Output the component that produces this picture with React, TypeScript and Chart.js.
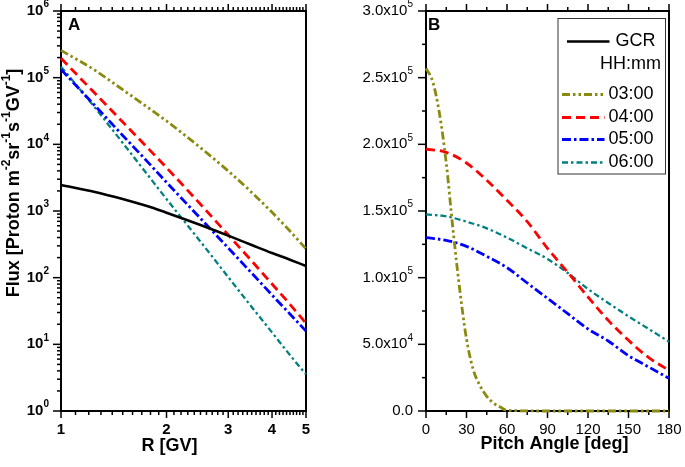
import { useEffect, useRef } from 'react'
import { Chart, registerables } from 'chart.js'

Chart.register(...registerables)

// ---- panel A: flux vs rigidity (log-log) ----
const rigidity = [1, 1.25, 1.5, 1.75, 2, 2.5, 3, 3.5, 4, 4.5, 5]
const gcrFlux = [2455, 1930, 1510, 1200, 944, 617, 427, 309, 234, 186, 150]
const flux0300 = [2.57e5, 1.29e5, 6.6e4, 3.72e4, 2.24e4, 8.9e3, 3.98e3, 1.9e3, 955, 500, 270]
const flux0400 = [1.95e5, 5.82e4, 2.16e4, 9.33e3, 4.47e3, 1.26e3, 437, 178, 80.4, 39.8, 20.7]
const flux0500 = [1.33e5, 3.8e4, 1.36e4, 5.75e3, 2.69e3, 776, 279, 117, 55, 28.5, 15.8]
const flux0600 = [1.46e5, 3.55e4, 1.05e4, 3.72e3, 1.51e3, 347, 102, 36.3, 15.1, 6.9, 3.55]
const rigidityTicks = [1, 2, 3, 4, 5]
const fluxExponents = [0, 1, 2, 3, 4, 5, 6]

// ---- panel B: flux vs pitch angle ----
const pitch0300 = [0, 5, 10, 15, 20, 25, 30, 35, 40, 45, 50, 55, 60, 90, 120, 150, 180]
const pad0300 = [2.57e5, 2.47e5, 2.23e5, 1.86e5, 1.36e5, 0.91e5, 0.54e5, 0.31e5, 0.19e5, 0.11e5, 0.06e5, 0.03e5, 0.005e5, 0, 0, 0, 0]
const pitchAngle = [0, 15, 30, 45, 60, 75, 90, 105, 120, 135, 150, 165, 180]
const pad0400 = [1.965e5, 1.94e5, 1.86e5, 1.73e5, 1.58e5, 1.42e5, 1.22e5, 1.04e5, 0.855e5, 0.68e5, 0.53e5, 0.4e5, 0.305e5]
const pad0500 = [1.3e5, 1.28e5, 1.235e5, 1.16e5, 1.075e5, 0.96e5, 0.845e5, 0.73e5, 0.615e5, 0.525e5, 0.415e5, 0.33e5, 0.245e5]
const pad0600 = [1.475e5, 1.46e5, 1.42e5, 1.37e5, 1.3e5, 1.22e5, 1.14e5, 1.035e5, 0.915e5, 0.81e5, 0.71e5, 0.615e5, 0.52e5]
const pitchTicks = [0, 30, 60, 90, 120, 150, 180]
const padTicks = [0, 0.5e5, 1e5, 1.5e5, 2e5, 2.5e5, 3e5]

const legendLabels = ['GCR', '03:00', '04:00', '05:00', '06:00']

const FONT = '"Liberation Sans", Arial, sans-serif'
const styles = [
  { color: '#000000', dash: [] as number[], width: 2.6 },
  { color: '#8a8a10', dash: [8, 3, 2.5, 3, 2.5, 3], width: 2.8 },
  { color: '#ff0000', dash: [9, 5], width: 2.8 },
  { color: '#0000ff', dash: [9, 3, 2.5, 3], width: 2.8 },
  { color: '#008080', dash: [6, 3, 2.5, 3], width: 2.3 },
]

type Seg = { t: string; sup?: boolean }

function segWidth(ctx: CanvasRenderingContext2D, segs: Seg[], size: number, weight: string) {
  let w = 0
  for (const s of segs) {
    ctx.font = `${weight} ${s.sup ? Math.round(size * 0.68) : size}px ${FONT}`
    w += ctx.measureText(s.t).width
  }
  return w
}

function drawRich(ctx: CanvasRenderingContext2D, segs: Seg[], x: number, y: number, size: number, weight: string, align: 'left' | 'right' | 'center') {
  const w = segWidth(ctx, segs, size, weight)
  let cx = align === 'left' ? x : align === 'right' ? x - w : x - w / 2
  ctx.textAlign = 'left'
  ctx.textBaseline = 'middle'
  for (const s of segs) {
    ctx.font = `${weight} ${s.sup ? Math.round(size * 0.68) : size}px ${FONT}`
    ctx.fillText(s.t, cx, s.sup ? y - size * 0.42 : y)
    cx += ctx.measureText(s.t).width
  }
}

function line(ctx: CanvasRenderingContext2D, x1: number, y1: number, x2: number, y2: number) {
  ctx.beginPath()
  ctx.moveTo(x1, y1)
  ctx.lineTo(x2, y2)
  ctx.stroke()
}

const panelA = {
  id: 'panelA',
  beforeDatasetsDraw(chart: any) {
    const { ctx, chartArea: a, scales: { x, y } } = chart
    ctx.save()
    ctx.strokeStyle = '#000'
    ctx.fillStyle = '#000'
    ctx.lineWidth = 2
    ctx.setLineDash([])
    ctx.strokeRect(a.left, a.top, a.right - a.left, a.bottom - a.top)
    ctx.lineWidth = 1.5
    for (const e of fluxExponents) {
      const py = y.getPixelForValue(10 ** e)
      line(ctx, a.left - 8, py, a.left, py)
      drawRich(ctx, [{ t: '10' }, { t: String(e), sup: true }], a.left - 12, py, 15, 'bold', 'right')
      if (e < 6) {
        for (let m = 2; m <= 9; m++) {
          const pm = y.getPixelForValue(m * 10 ** e)
          line(ctx, a.left - 4, pm, a.left, pm)
        }
      }
    }
    for (let k = 10; k <= 50; k++) {
      const px = x.getPixelForValue(k / 10)
      const len = k % 10 === 0 ? 7 : 4
      line(ctx, px, a.bottom, px, a.bottom + len)
      line(ctx, px, a.top, px, a.top - len)
    }
    ctx.textAlign = 'center'
    ctx.textBaseline = 'middle'
    ctx.font = `bold 15px ${FONT}`
    for (const v of rigidityTicks) ctx.fillText(String(v), x.getPixelForValue(v), a.bottom + 19)
    ctx.font = `bold 18px ${FONT}`
    ctx.fillText('R [GV]', (a.left + a.right) / 2 - 14, a.bottom + 35)
    ctx.textAlign = 'left'
    ctx.textBaseline = 'alphabetic'
    ctx.font = `bold 17px ${FONT}`
    ctx.fillText('A', a.left + 7, a.top + 19)
    ctx.translate(14, (a.top + a.bottom) / 2 - 28)
    ctx.rotate(-Math.PI / 2)
    drawRich(ctx, [
      { t: 'Flux [Proton m' }, { t: '-2', sup: true }, { t: 'sr' }, { t: '-1', sup: true },
      { t: 's' }, { t: '-1', sup: true }, { t: 'GV' }, { t: '-1', sup: true }, { t: ']' },
    ], 0, 0, 18, 'bold', 'center')
    ctx.restore()
  },
}

const panelB = {
  id: 'panelB',
  beforeDatasetsDraw(chart: any) {
    const { ctx, chartArea: a, scales: { x, y } } = chart
    ctx.save()
    ctx.strokeStyle = '#000'
    ctx.fillStyle = '#000'
    ctx.lineWidth = 2
    ctx.setLineDash([])
    ctx.strokeRect(a.left, a.top, a.right - a.left, a.bottom - a.top)
    ctx.lineWidth = 1.5
    padTicks.forEach((v, i) => {
      const py = y.getPixelForValue(v)
      line(ctx, a.left - 8, py, a.left, py)
      if (i < padTicks.length - 1) {
        const pm = y.getPixelForValue((v + padTicks[i + 1]) / 2)
        line(ctx, a.left - 4, pm, a.left, pm)
      }
      let segs: Seg[]
      if (v === 0) segs = [{ t: '0.0' }]
      else {
        const e = Math.floor(Math.log10(v) + 1e-9)
        segs = [{ t: (v / 10 ** e).toFixed(1) + 'x10' }, { t: String(e), sup: true }]
      }
      drawRich(ctx, segs, a.left - 13, py, 15, 'normal', 'right')
    })
    for (let v = 0; v <= 180; v += 15) {
      const px = x.getPixelForValue(v)
      const len = v % 30 === 0 ? 7 : 4
      line(ctx, px, a.bottom, px, a.bottom + len)
      line(ctx, px, a.top, px, a.top - len)
    }
    ctx.textAlign = 'center'
    ctx.textBaseline = 'middle'
    ctx.font = `15px ${FONT}`
    for (const v of pitchTicks) ctx.fillText(String(v), x.getPixelForValue(v), a.bottom + 19)
    ctx.font = `bold 18px ${FONT}`
    ctx.fillText('Pitch Angle [deg]', (a.left + a.right) / 2 + 7, a.bottom + 33)
    ctx.textAlign = 'left'
    ctx.textBaseline = 'alphabetic'
    ctx.font = `bold 17px ${FONT}`
    ctx.fillText('B', a.left + 2, a.top + 19)
    ctx.restore()
  },
  afterDraw(chart: any) {
    const { ctx, chartArea: a } = chart
    ctx.save()
    const bx = a.right - 111
    const by = a.top + 7.5
    ctx.fillStyle = '#fff'
    ctx.fillRect(bx, by, 107.5, 155.5)
    ctx.lineWidth = 1
    ctx.strokeStyle = '#333'
    ctx.strokeRect(bx, by, 107.5, 155.5)
    ctx.fillStyle = '#000'
    ctx.font = `18px ${FONT}`
    ctx.textBaseline = 'middle'
    const rows = [23, 76, 99, 121, 144]
    legendLabels.forEach((lab, i) => {
      const st = styles[i]
      const ly = by + rows[i]
      ctx.strokeStyle = st.color
      ctx.lineWidth = st.width
      ctx.setLineDash(st.dash)
      if (i === 0) line(ctx, bx + 9, ly, bx + 51.5, ly)
      else line(ctx, bx + 4, ly, bx + 46.5, ly)
      ctx.setLineDash([])
      if (i === 0) {
        ctx.textAlign = 'right'
        ctx.fillText(lab, bx + 97.5, ly)
      } else {
        ctx.textAlign = 'left'
        ctx.fillText(lab, bx + 50.5, ly)
      }
    })
    ctx.textAlign = 'right'
    ctx.fillText('HH:mm', bx + 103, by + 45.5)
    ctx.restore()
  },
}

function ds(label: string, xs: number[], ys: number[], i: number) {
  const st = styles[i]
  return {
    label,
    data: xs.map((v, k) => ({ x: v, y: ys[k] })),
    borderColor: st.color,
    borderDash: st.dash,
    borderWidth: st.width,
    pointRadius: 0,
    fill: false,
    clip: 3,
    cubicInterpolationMode: 'monotone' as const,
  }
}

export default function App() {
  const refA = useRef<HTMLCanvasElement>(null)
  const refB = useRef<HTMLCanvasElement>(null)

  useEffect(() => {
    if (!refA.current || !refB.current) return
    const common = {
      responsive: true,
      maintainAspectRatio: false,
      animation: false as const,
      events: [],
      plugins: { legend: { display: false }, tooltip: { enabled: false } },
    }
    const chartA = new Chart(refA.current, {
      type: 'line',
      data: {
        datasets: [
          ds('GCR', rigidity, gcrFlux, 0),
          ds('03:00', rigidity, flux0300, 1),
          ds('04:00', rigidity, flux0400, 2),
          ds('05:00', rigidity, flux0500, 3),
          ds('06:00', rigidity, flux0600, 4),
        ],
      },
      options: {
        ...common,
        layout: { padding: { left: 61, right: 34, top: 11, bottom: 56 } },
        scales: {
          x: { type: 'logarithmic', min: 1, max: 5, display: false },
          y: { type: 'logarithmic', min: 1, max: 1e6, display: false },
        },
      },
      plugins: [panelA],
    } as any)
    const chartB = new Chart(refB.current, {
      type: 'line',
      data: {
        datasets: [
          ds('03:00', pitch0300, pad0300, 1),
          ds('04:00', pitchAngle, pad0400, 2),
          ds('05:00', pitchAngle, pad0500, 3),
          ds('06:00', pitchAngle, pad0600, 4),
        ],
      },
      options: {
        ...common,
        layout: { padding: { left: 86, right: 16, top: 11, bottom: 56 } },
        scales: {
          x: { type: 'linear', min: 0, max: 180, display: false },
          y: { type: 'linear', min: 0, max: 3e5, display: false },
        },
      },
      plugins: [panelB],
    } as any)
    return () => {
      chartA.destroy()
      chartB.destroy()
    }
  }, [])

  return (
    <div style={{ position: 'absolute', left: 0, top: 0, width: 685, height: 467, background: '#fff' }}>
      <div style={{ position: 'absolute', left: 0, top: 0, width: 340, height: 467 }}>
        <canvas ref={refA} />
      </div>
      <div style={{ position: 'absolute', left: 340, top: 0, width: 345, height: 467 }}>
        <canvas ref={refB} />
      </div>
    </div>
  )
}
